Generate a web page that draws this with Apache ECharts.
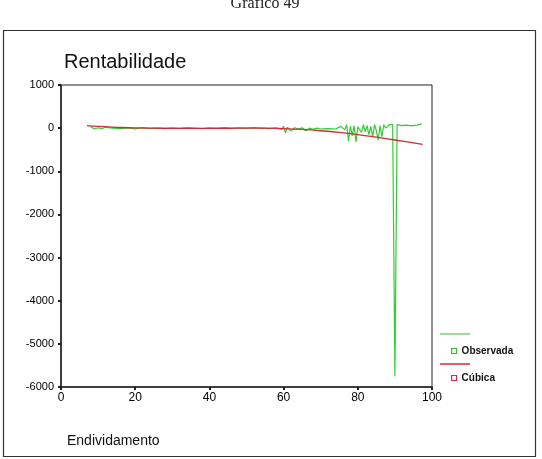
<!DOCTYPE html>
<html>
<head>
<meta charset="utf-8">
<script src="https://cdn.jsdelivr.net/npm/echarts@6/dist/echarts.min.js"></script>
<style>
  html, body { margin: 0; padding: 0; background: #fff; }
  #main { width: 542px; height: 459px; }
</style>
</head>
<body>
<div id="main"></div>
<script>
// eixo X: Endividamento, eixo Y: Rentabilidade
var xTicks = [0, 20, 40, 60, 80, 100];
var yTicks = [1000, 0, -1000, -2000, -3000, -4000, -5000, -6000];

// Observada
var obsX = [8, 9, 10, 11, 12, 14, 16, 18, 20, 22, 24, 26, 28, 30, 32, 34, 36, 38, 40, 42, 44, 46, 48, 50,
  52, 54, 56, 58, 59.5, 60, 60.5, 61, 62, 63, 64, 65, 66, 67, 68, 69, 70, 72, 74, 75.5, 76.5, 77, 77.5,
  78, 78.5, 79, 79.5, 80, 81, 81.5, 82, 82.5, 83, 83.5, 84, 84.5, 85, 85.5, 86, 86.5, 87, 87.5, 88, 88.5,
  89, 89.4, 90, 90.6, 91, 92, 93, 94, 95, 96, 97.3];
var obsY = [30, -20, 10, -10, 20, 0, -10, 5, -15, 10, -5, 0, -10, 5, -5, 10, 0, -10, 5, 0, 10, -5, 5, 0,
  10, 0, -10, 5, -30, 40, -110, 20, -60, 10, -20, 10, -60, 0, -30, 0, -20, -10, -20, 40, -40, 80, -300,
  50, -180, 60, -320, 30, -100, 80, -80, 60, -150, 40, -200, 80, -60, -280, 60, -200, 80, 0, -20, 80,
  70, 80, -5750, 80, 70, 60, 70, 60, 60, 70, 100];

// Cúbica (ajuste)
var cubX = [7, 10, 15, 20, 25, 30, 35, 40, 45, 50, 55, 60, 65, 70, 75, 80, 85, 90, 95, 97.5];
var cubY = [60, 40, 20, 5, 0, -5, -5, -5, -2, 0, 0, -10, -30, -60, -100, -150, -210, -275, -340, -375];

function pairs(xs, ys) {
  return xs.map(function (x, i) { return [x, ys[i]]; });
}

var chart = echarts.init(document.getElementById('main'));
var font = 'Liberation Sans, Arial, sans-serif';

var option = {
  animation: false,
  backgroundColor: '#fff',
  title: [
    {
      text: 'Gráfico 49',
      left: 260, top: -9, textAlign: 'center',
      textStyle: { fontFamily: 'Liberation Serif, Times New Roman, serif', fontSize: 16, fontWeight: 'normal', color: '#222' }
    },
    {
      text: 'Rentabilidade',
      left: 59, top: 47,
      textStyle: { fontFamily: font, fontSize: 20, fontWeight: 'normal', color: '#111' }
    },
    {
      text: 'Endividamento',
      left: 62, top: 429,
      textStyle: { fontFamily: font, fontSize: 14, fontWeight: 'normal', color: '#111' }
    }
  ],
  grid: {
    left: 61, top: 85, right: 110, bottom: 72,
    show: true, borderColor: '#222', borderWidth: 1
  },
  xAxis: {
    type: 'value', min: 0, max: 100, interval: 20,
    axisLine: { onZero: false, lineStyle: { color: '#222', width: 1.5 } },
    axisTick: { length: 3, lineStyle: { color: '#222', width: 2 } },
    axisLabel: { color: '#000', fontFamily: font, fontSize: 12, margin: 5,
      formatter: function (v) { return xTicks.indexOf(v) >= 0 ? v : ''; } },
    splitLine: { show: false }
  },
  yAxis: {
    type: 'value', min: -6000, max: 1000, interval: 1000,
    axisLine: { show: true, onZero: false, lineStyle: { color: '#222', width: 1.5 } },
    axisTick: { show: true, length: 3, lineStyle: { color: '#222', width: 2 } },
    axisLabel: { color: '#000', fontFamily: font, fontSize: 11, margin: 7,
      formatter: function (v) { return yTicks.indexOf(v) >= 0 ? v : ''; } },
    splitLine: { show: false }
  },
  legend: {
    orient: 'vertical',
    left: 446, top: 341,
    itemWidth: 5, itemHeight: 5, itemGap: 17,
    icon: 'rect',
    textStyle: { fontFamily: font, fontSize: 10, fontWeight: 'bold', color: '#111' },
    data: [
      { name: 'Observada', itemStyle: { color: '#fff', borderColor: '#33bb33', borderWidth: 1.2 } },
      { name: 'Cúbica', itemStyle: { color: '#fff', borderColor: '#d42a3a', borderWidth: 1.2 } }
    ]
  },
  graphic: [
    { type: 'rect', shape: { x: 3.5, y: 30.5, width: 532, height: 426 }, style: { fill: 'none', stroke: '#333', lineWidth: 1.2 }, silent: true },
    { type: 'line', shape: { x1: 440, y1: 334, x2: 470, y2: 334 }, style: { stroke: '#33bb33', lineWidth: 1 } },
    { type: 'line', shape: { x1: 440, y1: 364, x2: 470, y2: 364 }, style: { stroke: '#d42a3a', lineWidth: 1.5 } }
  ],
  series: [
    {
      name: 'Observada', type: 'line', showSymbol: false,
      data: pairs(obsX, obsY),
      lineStyle: { color: '#33cc33', width: 1.2 },
      itemStyle: { color: '#33cc33' }
    },
    {
      name: 'Cúbica', type: 'line', showSymbol: false, smooth: true,
      data: pairs(cubX, cubY),
      lineStyle: { color: '#d42a3a', width: 1.3 },
      itemStyle: { color: '#d42a3a' }
    }
  ]
};
chart.setOption(option);
</script>
</body>
</html>
